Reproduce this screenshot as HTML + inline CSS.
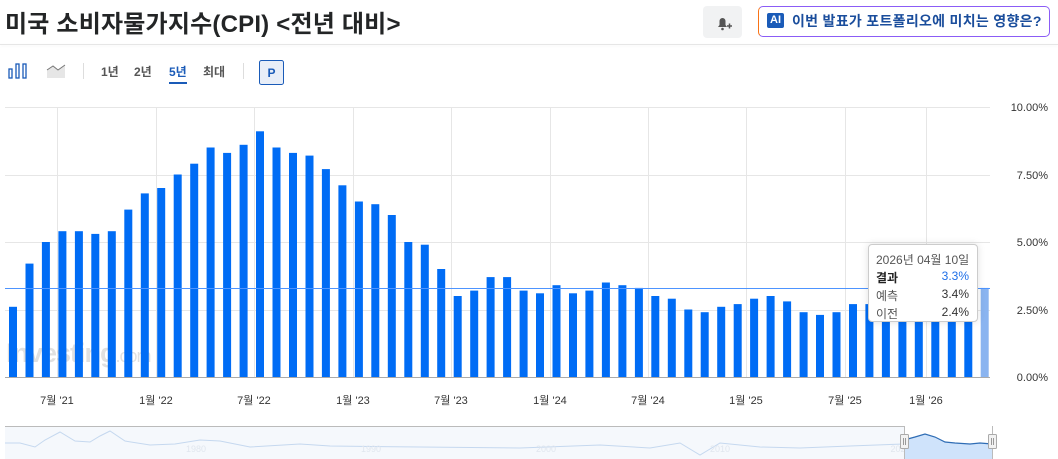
<!DOCTYPE html>
<html><head><meta charset="utf-8">
<style>
html,body{margin:0;padding:0;background:#fff;width:1058px;height:459px;overflow:hidden;font-family:"Liberation Sans","Noto Sans CJK KR",sans-serif}
.t{position:absolute;left:5px;top:4px;font-size:24px;font-weight:bold;color:#232526;letter-spacing:0.2px}
.sep{position:absolute;left:0;top:44px;width:1058px;height:1px;background:#e6e6e6;box-shadow:0 1px 3px rgba(0,0,0,.06)}
.bell{position:absolute;left:703px;top:6px;width:39px;height:32px;background:#f1f2f3;border-radius:4px}
.ai{position:absolute;left:758px;top:6px;width:290px;height:29px;border-radius:5px;border:1px solid;border-color:#8b5cf6 #8b5cf6 #8b5cf6 #f97316;background:#fff;font-size:14px;font-weight:bold;color:#1a4d9c;line-height:29px;box-sizing:content-box}
.ai .ic{position:absolute;left:8px;top:6px;width:17px;height:15px;background:#1a5bb8;border-radius:2px;color:#fff;font-size:11px;line-height:15px;text-align:center}
.ai span.tx{position:absolute;left:33px;top:0;letter-spacing:0.3px}
.tb{position:absolute;top:63px;font-size:12px;color:#555;font-weight:bold}
</style></head><body>
<div class="t">미국 소비자물가지수(CPI) &lt;전년 대비&gt;</div>
<div class="sep"></div>
<div class="bell"><svg width="39" height="32"><path d="M15 21 h9 l-1.5-2 v-4 a3 3 0 0 0-6 0 v4z" fill="#555"/><path d="M24 20 h5 M26.5 17.5 v5" stroke="#555" stroke-width="1.5"/><circle cx="19.5" cy="23" r="1.3" fill="#555"/></svg></div>
<div class="ai"><div class="ic">AI</div><span class="tx">이번 발표가 포트폴리오에 미치는 영향은?</span></div>
<svg style="position:absolute;left:0;top:55px" width="300" height="35">
<g fill="none" stroke="#1a5bb8" stroke-width="1.3"><rect x="9" y="14" width="3" height="9"/><rect x="16" y="9" width="3" height="14"/><rect x="23" y="9" width="3" height="14"/></g>
<path d="M47 23 v-8 l6-4 5 4 7-5 v13z" fill="#e6e6e6"/><path d="M47 15 l6-4 5 4 7-5" fill="none" stroke="#777" stroke-width="1"/>
<line x1="83.5" y1="8" x2="83.5" y2="24" stroke="#ddd"/>
<line x1="243.5" y1="8" x2="243.5" y2="24" stroke="#ddd"/>
<rect x="259.5" y="5.5" width="24" height="24" rx="2" fill="#e8eef8" stroke="#1a5bb8"/>
<text x="271.5" y="22" text-anchor="middle" font-size="12" font-weight="bold" fill="#1a5bb8" font-family="Liberation Sans">P</text>
<rect x="169" y="27" width="18" height="2" fill="#1a5bb8"/>
</svg>
<div class="tb" style="left:101px">1년</div>
<div class="tb" style="left:134px">2년</div>
<div class="tb" style="left:169px;color:#1a5bb8">5년</div>
<div class="tb" style="left:203px">최대</div>
<svg id="c" style="position:absolute;left:0;top:0" width="1058" height="459"></svg>
<div style="position:absolute;left:868px;top:244px;width:108px;height:76px;border:1px solid #ccc;border-radius:4px;background:#fff;box-shadow:0 0 8px rgba(0,0,0,.12);font-size:12px;color:#333">
<div style="position:absolute;left:7px;top:6px;color:#555">2026년 04월 10일</div>
<div style="position:absolute;left:7px;top:24px;font-weight:bold;color:#222">결과</div><div style="position:absolute;right:8px;top:24px;color:#1e6fe8">3.3%</div>
<div style="position:absolute;left:7px;top:42px;color:#555">예측</div><div style="position:absolute;right:8px;top:42px">3.4%</div>
<div style="position:absolute;left:7px;top:60px;color:#555">이전</div><div style="position:absolute;right:8px;top:60px">2.4%</div>
</div>
<script>
var v=[2.6,4.2,5.0,5.4,5.4,5.3,5.4,6.2,6.8,7.0,7.5,7.9,8.5,8.3,8.6,9.1,8.5,8.3,8.2,7.7,7.1,6.5,6.4,6.0,5.0,4.9,4.0,3.0,3.2,3.7,3.7,3.2,3.1,3.4,3.1,3.2,3.5,3.4,3.3,3.0,2.9,2.5,2.4,2.6,2.7,2.9,3.0,2.8,2.4,2.3,2.4,2.7,2.7,2.9,3.0,2.7,2.7,2.4,2.4,3.3];
var s='';
[107,175,242,310].forEach(function(y){s+='<line x1="5" x2="990" y1="'+(y+.5)+'" y2="'+(y+.5)+'" stroke="#e6e6e6"/>';});
var gx=[57,156,254,353,451,550,648,746,845,926],lb=["7월 '21","1월 '22","7월 '22","1월 '23","7월 '23","1월 '24","7월 '24","1월 '25","7월 '25","1월 '26"];
gx.forEach(function(x,i){s+='<line x1="'+(x+.5)+'" x2="'+(x+.5)+'" y1="107" y2="377" stroke="#e6e6e6"/><text x="'+x+'" y="404" text-anchor="middle" font-size="11" fill="#333">'+lb[i]+'</text>';});
s+='<text x="6" y="362" font-size="27" font-weight="bold" fill="#000" fill-opacity="0.12" letter-spacing="-1">Investing<tspan font-weight="normal" font-size="18">.com</tspan></text>';
v.forEach(function(d,i){var x=9+i*16.47,h=d*27;s+='<rect x="'+x.toFixed(1)+'" y="'+(377-h).toFixed(1)+'" width="8" height="'+h.toFixed(1)+'" fill="'+(i==59?'#8ab4f0':'#006cf5')+'"/>';});
s+='<line x1="5" x2="990" y1="288.5" y2="288.5" stroke="#4d94ff"/>';
s+='<line x1="5" x2="990" y1="377.5" y2="377.5" stroke="#aaa"/>';
[["10.00%",111],["7.50%",179],["5.00%",246],["2.50%",314],["0.00%",381]].forEach(function(a){s+='<text x="1048" y="'+a[1]+'" text-anchor="end" font-size="11" fill="#333">'+a[0]+'</text>';});
s+='<rect x="5" y="427" width="899" height="32" fill="#f5f8fc"/>';
s+='<path d="M5 443 L20 443 35 447 45 440 60 432 75 441 90 442 100 436 110 431 125 441 150 445 175 444 200 440 220 441 250 447 300 444 330 446 420 447 520 448 600 445 650 448 680 443 700 455 720 443 760 447 800 448 850 446 904 444" fill="none" stroke="#c5d8ef"/>';
s+='<line x1="5" x2="904" y1="426.5" y2="426.5" stroke="#bbb"/>';
s+='<path d="M904 440 L915 437 925 434 935 437 945 442 955 443 970 444 980 443 992 444 L992 459 L904 459z" fill="#cfe3fb"/>';
s+='<path d="M904 440 L915 437 925 434 935 437 945 442 955 443 970 444 980 443 992 444" fill="none" stroke="#2f6db5" stroke-width="1.2"/>';
[['1980',196],['1990',371],['2000',546],['2010',720],['202',898]].forEach(function(a){s+='<text x="'+a[1]+'" y="452" text-anchor="middle" font-size="9" fill="#e0e6ee">'+a[0]+'</text>';});
[904,992].forEach(function(x){s+='<line x1="'+(x+.5)+'" x2="'+(x+.5)+'" y1="426" y2="459" stroke="#bbb"/><rect x="'+(x-3.5)+'" y="434.5" width="8" height="14" rx="1" fill="#f2f2f2" stroke="#aaa"/><line x1="'+(x-0.5)+'" x2="'+(x-0.5)+'" y1="438" y2="445" stroke="#999"/><line x1="'+(x+1.5)+'" x2="'+(x+1.5)+'" y1="438" y2="445" stroke="#999"/>';});
document.getElementById('c').innerHTML=s;
</script>
</body></html>
